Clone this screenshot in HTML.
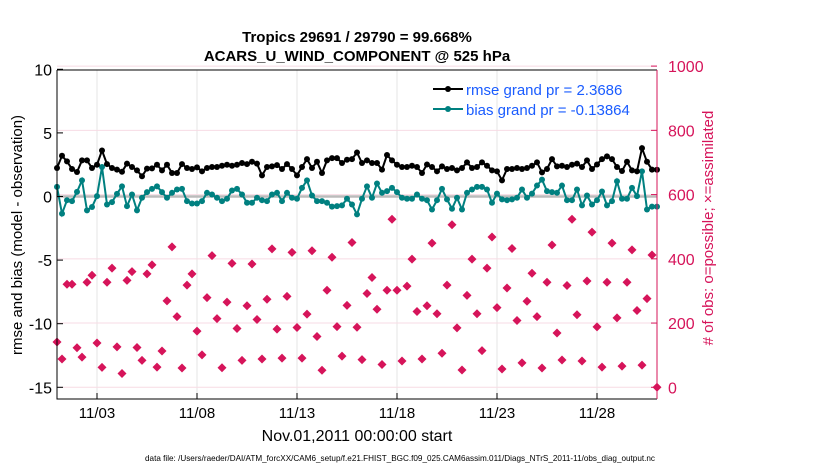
<!DOCTYPE html>
<html><head><meta charset="utf-8"><style>
body{margin:0;background:#fff;width:830px;height:470px;overflow:hidden}
svg{font-family:"Liberation Sans",sans-serif}
</style></head><body>
<svg id="chart" width="830" height="470" viewBox="0 0 830 470" xmlns="http://www.w3.org/2000/svg">
<rect width="830" height="470" fill="#fff"/>
<g id="grid"></g>
<g id="series"></g>
<g id="axes"></g>
<text x="357" y="42" text-anchor="middle" font-size="15" font-weight="bold">Tropics 29691 / 29790 = 99.668%</text>
<text x="357" y="61" text-anchor="middle" font-size="15" font-weight="bold">ACARS_U_WIND_COMPONENT @ 525 hPa</text>
<text transform="translate(22,235) rotate(-90)" text-anchor="middle" font-size="15">rmse and bias (model - observation)</text>
<text transform="translate(713,228) rotate(-90)" text-anchor="middle" font-size="15" fill="#d6145a"># of obs: o=possible; ×=assimilated</text>
<text x="357" y="441" text-anchor="middle" font-size="16">Nov.01,2011 00:00:00 start</text>
<text x="145" y="461" font-size="8.5" textLength="510" lengthAdjust="spacingAndGlyphs">data file: /Users/raeder/DAI/ATM_forcXX/CAM6_setup/f.e21.FHIST_BGC.f09_025.CAM6assim.011/Diags_NTrS_2011-11/obs_diag_output.nc</text>
<g>
<line x1="433" y1="89" x2="463" y2="89" stroke="#000" stroke-width="2"/><circle cx="448" cy="89" r="3" fill="#000"/>
<text x="466" y="95" font-size="15" fill="#1a5cff">rmse grand pr = 2.3686</text>
<line x1="433" y1="109" x2="463" y2="109" stroke="#008080" stroke-width="2"/><circle cx="448" cy="109" r="3" fill="#008080"/>
<text x="466" y="115" font-size="15" fill="#1a5cff">bias grand pr = -0.13864</text>
</g>
</svg>
<script>
const rmse=[2.24,3.2,2.76,2.16,1.93,2.84,2.84,2.24,2.5,3.62,2.55,2.24,2.11,1.95,2.58,2.32,2.05,1.59,2.19,2.21,2.5,2.05,2.5,1.85,1.85,2.55,2.24,2.16,2.29,1.98,2.24,2.32,2.32,2.42,2.5,2.42,2.5,2.63,2.55,2.73,2.58,1.66,2.32,2.37,2.47,2.16,2.55,2.16,1.66,2.32,2.94,2.24,2.73,1.85,2.84,3.02,3.02,2.63,2.89,2.94,3.46,
2.63,2.84,2.63,2.63,2.11,3.26,2.84,2.5,2.32,2.32,2.42,2.32,1.85,2.52,2.32,1.98,2.37,2.16,2.24,2.05,2.24,2.68,2.24,2.32,2.68,2.42,2.05,1.98,1.27,2.16,2.16,2.24,2.16,2.24,2.42,2.68,1.9,2.16,2.94,2.37,2.42,2.32,2.5,2.58,2.32,2.84,2.16,2.52,2.94,3.15,2.94,2.32,2.0,2.73,2.05,1.98,3.8,2.73,2.11,2.1];
const bias=[0.76,-1.35,-0.29,-0.36,0.36,1.27,-1.09,-0.83,0.03,2.32,-0.63,-0.44,0.21,0.8,-0.76,0.16,-1.09,-0.1,0.34,0.6,0.8,0.34,-0.1,0.29,0.55,0.6,-0.36,-0.55,-0.55,-0.36,0.29,0.16,-0.1,-0.36,-0.18,0.47,0.6,0.16,-0.49,-0.49,-0.1,-0.29,-0.36,0.16,0.29,-0.36,0.29,-0.1,-0.18,0.68,1.27,0.08,-0.36,-0.36,-0.49,-0.8,-0.76,-0.7,-0.18,-0.63,-1.41,
-0.18,0.8,-0.1,1.02,0.29,0.42,0.68,0.34,-0.1,-0.18,-0.18,0.16,-0.18,-0.29,-1.02,-0.29,0.6,-0.23,-0.96,-0.1,-1.02,0.29,0.55,0.76,0.76,0.55,-0.49,0.23,-0.23,-0.29,-0.23,-0.1,0.55,-0.1,0.23,0.86,1.33,0.42,0.34,0.29,0.86,-0.29,-0.29,0.55,-0.7,0.08,-0.63,-0.29,0.39,-0.7,-0.36,1.2,-0.18,-0.18,0.68,0.03,1.98,-1.02,-0.8,-0.8];
const nobs=[141,88,321,321,123,94,327,349,138,62,327,371,126,43,333,360,124,84,353,381,63,113,269,437,220,60,318,353,175,101,279,410,214,61,265,386,183,84,254,384,211,88,274,431,181,91,283,420,186,91,228,425,158,53,302,405,189,97,255,451,187,86,
292,342,243,71,302,523,302,82,315,399,236,88,254,449,229,106,318,506,185,54,286,399,229,114,371,468,248,57,309,432,208,76,268,355,220,60,327,443,169,85,317,523,226,82,331,483,188,63,327,449,216,66,327,428,239,69,276,412,0];
const xTickDays=[2,7,12,17,22,27];
const xTickLabels=["11/03","11/08","11/13","11/18","11/23","11/28"];
const leftTicks=[10,5,0,-5,-10,-15];
const rightTicks=[1000,800,600,400,200,0];
const stepDays=0.25;

const L=57,R=657,T=70,B=399;
const xs=d=>L+d*(R-L)/30;
const yl=v=>196.5-12.72*v;
const yr=n=>387.3-0.3212*n;
const NS="http://www.w3.org/2000/svg";
function mk(tag,attrs,parent){const e=document.createElementNS(NS,tag);for(const k in attrs)e.setAttribute(k,attrs[k]);parent.appendChild(e);return e;}
const grid=document.getElementById('grid'),ser=document.getElementById('series'),ax=document.getElementById('axes');

xTickDays.forEach((d,i)=>{
  const gl=mk('line',{x1:xs(d),x2:xs(d),y1:T,y2:B,stroke:'#e6e6e6','stroke-width':1},grid);
  
  
  const tk=mk('line',{x1:xs(d),x2:xs(d),y1:B,y2:B-6,stroke:'#000'},ax);
  
  
  const tt=mk('text',{x:xs(d),y:418,'text-anchor':'middle','font-size':15},ax);
  tt.textContent=xTickLabels[i];
  
  
});
rightTicks.forEach(n=>{
  const gl=mk('line',{x1:L,x2:R,y1:yr(n),y2:yr(n),stroke:'#f7dbe4','stroke-width':1},grid);
  
  
  const tk=mk('line',{x1:R,x2:R-6,y1:yr(n),y2:yr(n),stroke:'#d6145a'},ax);
  
  
  const tt=mk('text',{x:668,y:yr(n)+6,'font-size':16,fill:'#d6145a'},ax);
  tt.textContent=n;
  
  
});
leftTicks.forEach(v=>{
  const tk=mk('line',{x1:L,x2:L+6,y1:yl(v),y2:yl(v),stroke:'#000'},ax);
  
  
  const tt=mk('text',{x:52,y:yl(v)+6,'text-anchor':'end','font-size':16},ax);
  tt.textContent=v;
  
  
});
const zl=mk('line',{x1:L,x2:R,y1:yl(0),y2:yl(0),stroke:'#bbbbbb','stroke-width':2.5},grid);



const ax1=mk('path',{d:`M${L},${T}H${R}M${L},${T}V${B}H${R}`,fill:'none',stroke:'#000','stroke-width':1},ax);


const ax2=mk('line',{x1:R,x2:R,y1:T,y2:B,stroke:'#d6145a','stroke-width':1},ax);



nobs.forEach((n,i)=>{
  const x=xs(i*stepDays),y=yr(n);
  const p=mk('path',{d:`M${x},${y-4.5}L${x+4.5},${y}L${x},${y+4.5}L${x-4.5},${y}Z`,fill:'#d6145a'},ser);
  
  
});
function line(arr,color,name){
  const d=arr.map((v,i)=>(i?'L':'M')+xs(i*stepDays).toFixed(1)+','+yl(v).toFixed(1)).join('');
  const pl=mk('path',{d:d,fill:'none',stroke:color,'stroke-width':2},ser);
  
  
  arr.forEach((v,i)=>{
    const c=mk('circle',{cx:xs(i*stepDays),cy:yl(v),r:3,fill:color},ser);
    
    
  });
}
line(bias,'#008080','bias');
line(rmse,'#000000','rmse');
</script>
</body></html>
